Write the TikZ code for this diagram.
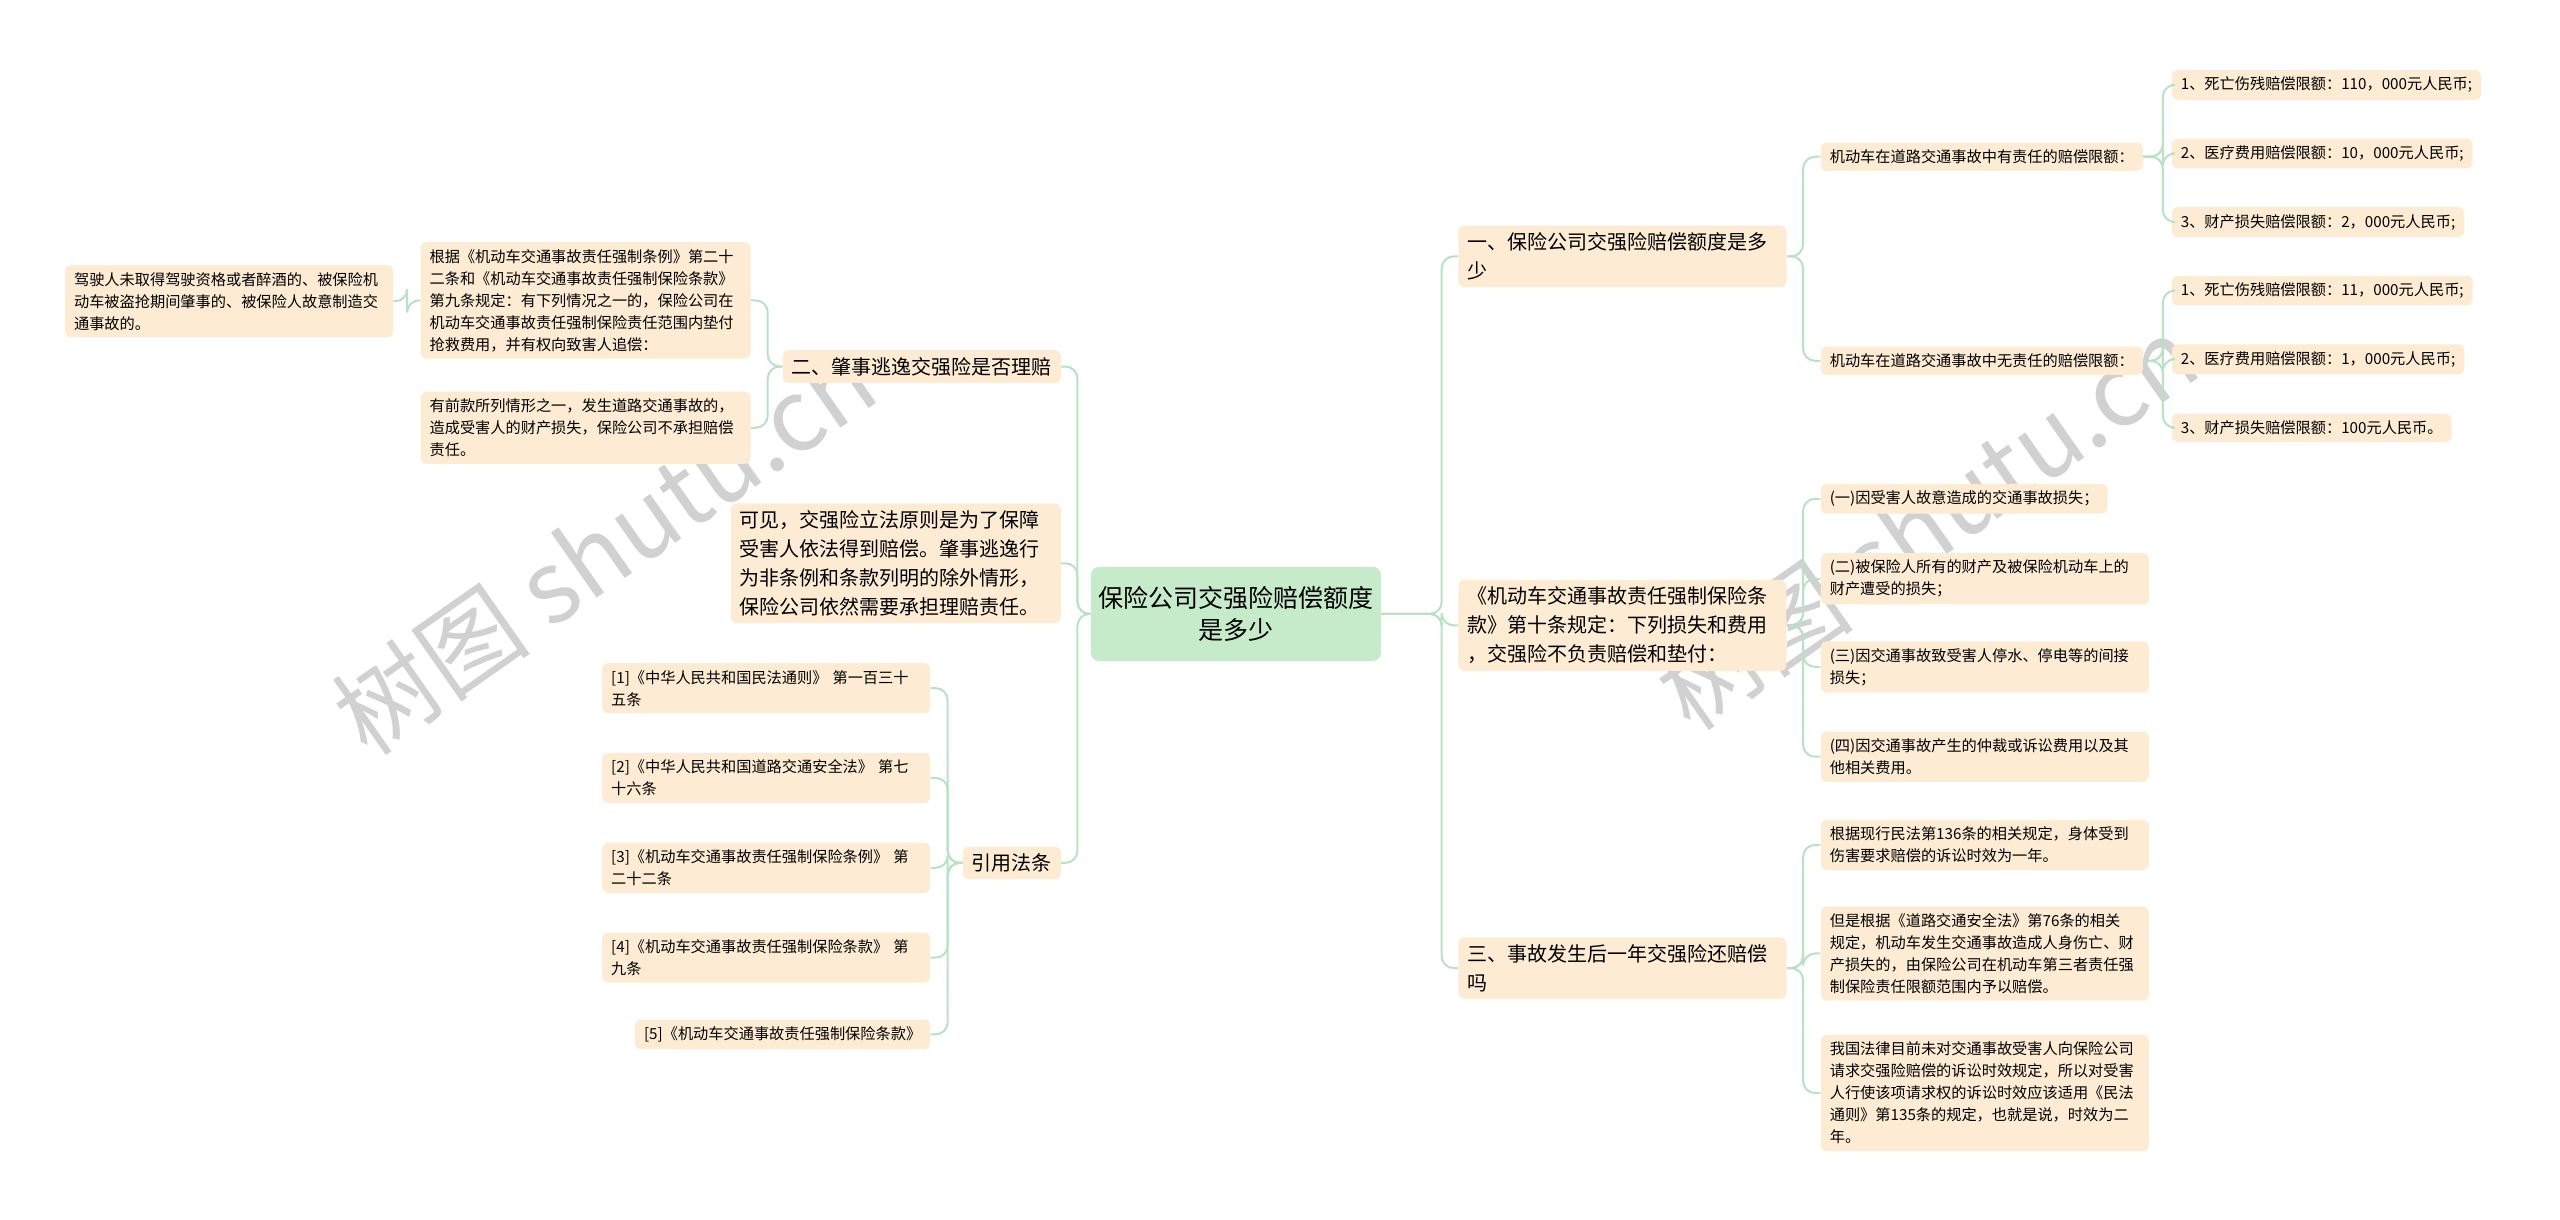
\documentclass[tikz,border=0pt]{standalone}
\usepackage{fontspec}
\setmainfont{Noto Sans CJK SC}
\begin{document}
\begin{tikzpicture}[x=0.8163pt,y=-0.8163pt,
  box/.style={fill=boxc,rounded corners=3pt,inner xsep=4.5pt,inner ysep=3.5pt,align=left,font=\fontsize{7.6}{11}\selectfont},
  big/.style={box,font=\fontsize{10}{14.5}\selectfont},
  conn/.style={draw=linec,line width=1pt,rounded corners=6pt},
  wm/.style={text=black!18,font=\fontsize{50}{50}\selectfont,rotate=35}]
\definecolor{boxc}{HTML}{FDEBD4}
\definecolor{cenc}{HTML}{C5EBCB}
\definecolor{linec}{HTML}{B8E2C3}
\useasboundingbox (0,0) rectangle (1568,747);
% watermark
\node[wm] (w1) at (370,335) {树图 shutu.cn};
\node[wm] (w2) at (1180,320) {树图 shutu.cn};
% center
\node[fill=cenc,rounded corners=4pt,minimum width=145pt,minimum height=47pt,align=center,font=\fontsize{12.5}{16}\selectfont] (c) at (757,376) {保险公司交强险赔偿额度\\是多少};
% right L1
\node[big,anchor=west,text width=155pt] (a) at (893,157) {一、保险公司交强险赔偿额度是多\\少};
\node[big,anchor=west,text width=155pt] (b) at (893,383) {《机动车交通事故责任强制保险条\\款》第十条规定：下列损失和费用\\，交强险不负责赔偿和垫付：};
\node[big,anchor=west,text width=155pt] (cc) at (893,593) {三、事故发生后一年交强险还赔偿\\吗};
% L2
\node[box,anchor=west] (a1) at (1115,96) {机动车在道路交通事故中有责任的赔偿限额：};
\node[box,anchor=west] (a2) at (1115,221) {机动车在道路交通事故中无责任的赔偿限额：};
\node[box,anchor=west] (a11) at (1330,52) {1、死亡伤残赔偿限额：110，000元人民币;};
\node[box,anchor=west] (a12) at (1330,94) {2、医疗费用赔偿限额：10，000元人民币;};
\node[box,anchor=west] (a13) at (1330,136) {3、财产损失赔偿限额：2，000元人民币;};
\node[box,anchor=west] (a21) at (1330,178) {1、死亡伤残赔偿限额：11，000元人民币;};
\node[box,anchor=west] (a22) at (1330,220) {2、医疗费用赔偿限额：1，000元人民币;};
\node[box,anchor=west] (a23) at (1330,262) {3、财产损失赔偿限额：100元人民币。};
% B children
\node[box,anchor=west] (b1) at (1115,305.5) {(一)因受害人故意造成的交通事故损失；};
\node[box,anchor=west,text width=155pt] (b2) at (1115,354.5) {(二)被保险人所有的财产及被保险机动车上的\\财产遭受的损失；};
\node[box,anchor=west,text width=155pt] (b3) at (1115,408.5) {(三)因交通事故致受害人停水、停电等的间接\\损失；};
\node[box,anchor=west,text width=155pt] (b4) at (1115,463.5) {(四)因交通事故产生的仲裁或诉讼费用以及其\\他相关费用。};
% C children
\node[box,anchor=west,text width=155pt] (c1) at (1115,517.5) {根据现行民法第136条的相关规定，身体受到\\伤害要求赔偿的诉讼时效为一年。};
\node[box,anchor=west,text width=155pt] (c2) at (1115,584) {但是根据《道路交通安全法》第76条的相关\\规定，机动车发生交通事故造成人身伤亡、财\\产损失的，由保险公司在机动车第三者责任强\\制保险责任限额范围内予以赔偿。};
\node[box,anchor=west,text width=155pt] (c3) at (1115,669.5) {我国法律目前未对交通事故受害人向保险公司\\请求交强险赔偿的诉讼时效规定，所以对受害\\人行使该项请求权的诉讼时效应该适用《民法\\通则》第135条的规定，也就是说，时效为二\\年。};
% left
\node[big,anchor=east] (e) at (650,224.5) {二、肇事逃逸交强险是否理赔};
\node[box,anchor=east,text width=156pt] (e1) at (460,184) {根据《机动车交通事故责任强制条例》第二十\\二条和《机动车交通事故责任强制保险条款》\\第九条规定：有下列情况之一的，保险公司在\\机动车交通事故责任强制保险责任范围内垫付\\抢救费用，并有权向致害人追偿：};
\node[box,anchor=east,text width=156pt] (e2) at (460,262) {有前款所列情形之一，发生道路交通事故的，\\造成受害人的财产损失，保险公司不承担赔偿\\责任。};
\node[box,anchor=east,text width=155pt] (e11) at (241,184.5) {驾驶人未取得驾驶资格或者醉酒的、被保险机\\动车被盗抢期间肇事的、被保险人故意制造交\\通事故的。};
\node[big,anchor=east,text width=156pt] (f) at (650,345) {可见，交强险立法原则是为了保障\\受害人依法得到赔偿。肇事逃逸行\\为非条例和条款列明的除外情形，\\保险公司依然需要承担理赔责任。};
\node[big,anchor=east] (g) at (650,528.5) {引用法条};
\node[box,anchor=east,text width=155pt] (g1) at (570,421.5) {[1]《中华人民共和国民法通则》 第一百三十\\五条};
\node[box,anchor=east,text width=155pt] (g2) at (570,476.5) {[2]《中华人民共和国道路交通安全法》 第七\\十六条};
\node[box,anchor=east,text width=155pt] (g3) at (570,531.5) {[3]《机动车交通事故责任强制保险条例》 第\\二十二条};
\node[box,anchor=east,text width=155pt] (g4) at (570,586.5) {[4]《机动车交通事故责任强制保险条款》 第\\九条};
\node[box,anchor=east] (g5) at (570,633.5) {[5]《机动车交通事故责任强制保险条款》};
% connectors
\foreach \n in {a,b,cc} \draw[conn] (c.east) -- ++(37,0) |- (\n.west);
\foreach \n in {e,f,g} \draw[conn] (c.west) -- ++(-8,0) |- (\n.east);
\foreach \n in {a1,a2} \draw[conn] (a.east) -- ++(10,0) |- (\n.west);
\foreach \n in {a11,a12,a13} \draw[conn] (a1.east) -- ++(12,0) |- (\n.west);
\foreach \n in {a21,a22,a23} \draw[conn] (a2.east) -- ++(12,0) |- (\n.west);
\foreach \n in {b1,b2,b3,b4} \draw[conn] (b.east) -- ++(10,0) |- (\n.west);
\foreach \n in {c1,c2,c3} \draw[conn] (cc.east) -- ++(10,0) |- (\n.west);
\foreach \n in {e1,e2} \draw[conn] (e.west) -- ++(-9,0) |- (\n.east);
\draw[conn] (e1.west) -- ++(-8,0) |- (e11.east);
\foreach \n in {g1,g2,g3,g4,g5} \draw[conn] (g.west) -- ++(-9,0) |- (\n.east);
\end{tikzpicture}
\end{document}
